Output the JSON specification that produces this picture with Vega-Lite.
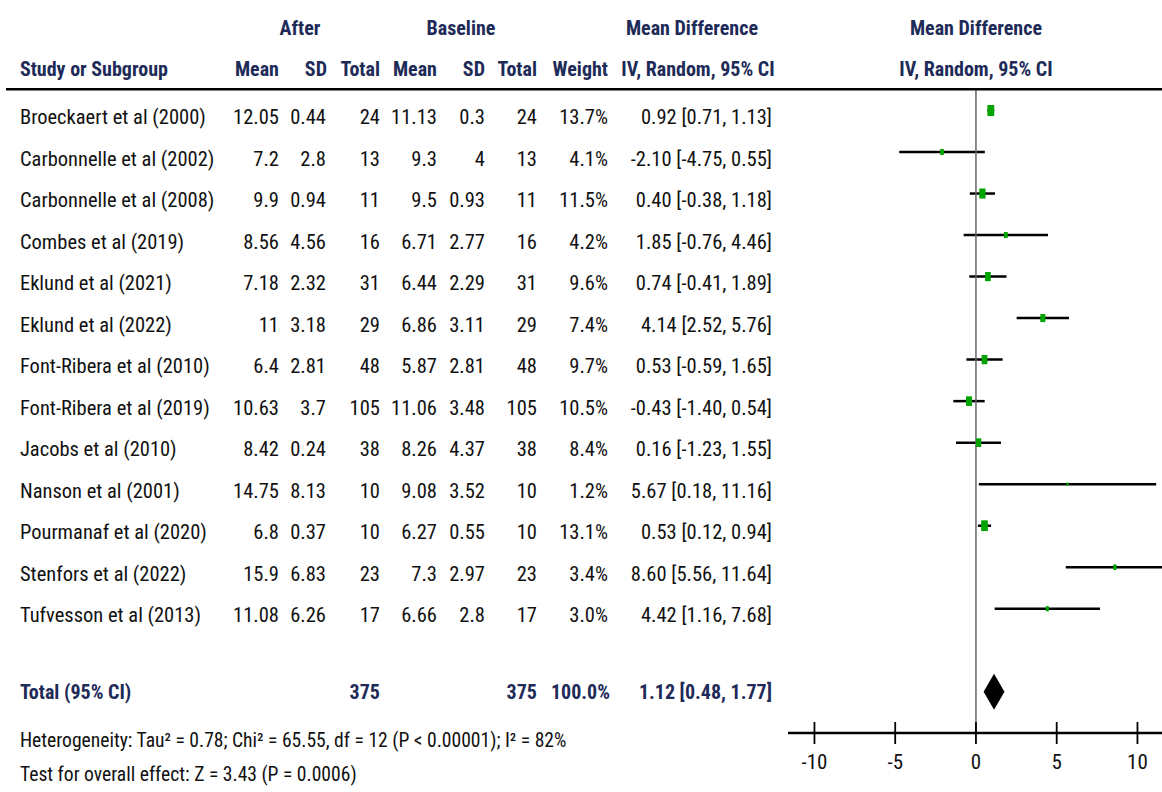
{
  "$schema": "https://vega.github.io/schema/vega-lite/v6.json",
  "description": "Forest plot: mean difference after vs baseline, IV random-effects model. Table columns share the mean-difference x scale.",
  "width": 1162,
  "height": 722,
  "autosize": {"type": "none"},
  "padding": {"left": 0, "top": 0, "right": 0, "bottom": 70},
  "background": "#ffffff",
  "config": {
    "view": {"stroke": null},
    "font": "Roboto Condensed, DejaVu Sans Condensed, sans-serif",
    "text": {"font": "Roboto Condensed, DejaVu Sans Condensed, sans-serif", "fontSize": 20.5, "color": "#111111", "baseline": "alphabetic"},
    "locale": {"number": {"decimal": ".", "thousands": ",", "grouping": [3], "currency": ["$", ""], "minus": "-"}}
  },
  "datasets": {
    "studies": [
      {"row": 0, "study": "Broeckaert et al (2000)", "m1": 12.05, "sd1": 0.44, "n1": 24, "m2": 11.13, "sd2": 0.3, "n2": 24, "weight": 13.7, "md": 0.92, "lo": 0.71, "hi": 1.13},
      {"row": 1, "study": "Carbonnelle et al (2002)", "m1": 7.2, "sd1": 2.8, "n1": 13, "m2": 9.3, "sd2": 4, "n2": 13, "weight": 4.1, "md": -2.10, "lo": -4.75, "hi": 0.55},
      {"row": 2, "study": "Carbonnelle et al (2008)", "m1": 9.9, "sd1": 0.94, "n1": 11, "m2": 9.5, "sd2": 0.93, "n2": 11, "weight": 11.5, "md": 0.40, "lo": -0.38, "hi": 1.18},
      {"row": 3, "study": "Combes et al (2019)", "m1": 8.56, "sd1": 4.56, "n1": 16, "m2": 6.71, "sd2": 2.77, "n2": 16, "weight": 4.2, "md": 1.85, "lo": -0.76, "hi": 4.46},
      {"row": 4, "study": "Eklund et al (2021)", "m1": 7.18, "sd1": 2.32, "n1": 31, "m2": 6.44, "sd2": 2.29, "n2": 31, "weight": 9.6, "md": 0.74, "lo": -0.41, "hi": 1.89},
      {"row": 5, "study": "Eklund et al (2022)", "m1": 11, "sd1": 3.18, "n1": 29, "m2": 6.86, "sd2": 3.11, "n2": 29, "weight": 7.4, "md": 4.14, "lo": 2.52, "hi": 5.76},
      {"row": 6, "study": "Font-Ribera et al (2010)", "m1": 6.4, "sd1": 2.81, "n1": 48, "m2": 5.87, "sd2": 2.81, "n2": 48, "weight": 9.7, "md": 0.53, "lo": -0.59, "hi": 1.65},
      {"row": 7, "study": "Font-Ribera et al (2019)", "m1": 10.63, "sd1": 3.7, "n1": 105, "m2": 11.06, "sd2": 3.48, "n2": 105, "weight": 10.5, "md": -0.43, "lo": -1.40, "hi": 0.54},
      {"row": 8, "study": "Jacobs et al (2010)", "m1": 8.42, "sd1": 0.24, "n1": 38, "m2": 8.26, "sd2": 4.37, "n2": 38, "weight": 8.4, "md": 0.16, "lo": -1.23, "hi": 1.55},
      {"row": 9, "study": "Nanson et al (2001)", "m1": 14.75, "sd1": 8.13, "n1": 10, "m2": 9.08, "sd2": 3.52, "n2": 10, "weight": 1.2, "md": 5.67, "lo": 0.18, "hi": 11.16},
      {"row": 10, "study": "Pourmanaf et al (2020)", "m1": 6.8, "sd1": 0.37, "n1": 10, "m2": 6.27, "sd2": 0.55, "n2": 10, "weight": 13.1, "md": 0.53, "lo": 0.12, "hi": 0.94},
      {"row": 11, "study": "Stenfors et al (2022)", "m1": 15.9, "sd1": 6.83, "n1": 23, "m2": 7.3, "sd2": 2.97, "n2": 23, "weight": 3.4, "md": 8.60, "lo": 5.56, "hi": 11.64},
      {"row": 12, "study": "Tufvesson et al (2013)", "m1": 11.08, "sd1": 6.26, "n1": 17, "m2": 6.66, "sd2": 2.8, "n2": 17, "weight": 3.0, "md": 4.42, "lo": 1.16, "hi": 7.68}
    ],
    "total": [
      {"row": 14, "study": "Total (95% CI)", "n1": 375, "n2": 375, "weight": 100, "md": 1.12, "lo": 0.48, "hi": 1.77}
    ],
    "ticks": [
      {"tick": -10}, {"tick": -5}, {"tick": 0}, {"tick": 5}, {"tick": 10}
    ]
  },
  "layer": [
    {"data": {"name": "studies"}, "mark": {"type": "rule", "color": "#000000", "strokeWidth": 2.5},
     "encoding": {"x": {"field": "lo", "type": "quantitative", "scale": {"domain": [-60.43, 11.52], "nice": false, "zero": false}, "axis": null},
                  "x2": {"field": "hi"},
                  "y": {"field": "row", "type": "quantitative", "scale": {"domain": [-2.661, 14.728], "reverse": true, "nice": false, "zero": false}, "axis": null}}},
    {"data": {"values": [{}]}, "mark": {"type": "rule", "color": "#666666", "strokeWidth": 1.5},
     "encoding": {"x": {"datum": 0, "type": "quantitative", "axis": null},
                  "y": {"datum": -0.511, "type": "quantitative", "scale": {"domain": [-2.661, 14.728], "reverse": true, "nice": false, "zero": false}, "axis": null},
                  "y2": {"datum": 14.993}}},
    {"data": {"values": [{}]}, "mark": {"type": "rule", "color": "#000000", "strokeWidth": 2.5},
     "encoding": {"x": {"datum": -60.06, "type": "quantitative", "axis": null},
                  "x2": {"datum": 11.52},
                  "y": {"datum": -0.511, "type": "quantitative", "scale": {"domain": [-2.661, 14.728], "reverse": true, "nice": false, "zero": false}, "axis": null}}},
    {"data": {"values": [{}]}, "mark": {"type": "rule", "color": "#000000", "strokeWidth": 2.5},
     "encoding": {"x": {"datum": -11.64, "type": "quantitative", "axis": null},
                  "x2": {"datum": 11.52},
                  "y": {"datum": 14.993, "type": "quantitative", "scale": {"domain": [-2.661, 14.728], "reverse": true, "nice": false, "zero": false}, "axis": null}}},
    {"data": {"name": "ticks"}, "mark": {"type": "rule", "color": "#000000", "strokeWidth": 1.8},
     "encoding": {"x": {"field": "tick", "type": "quantitative", "axis": null},
                  "y": {"datum": 14.728, "type": "quantitative", "scale": {"domain": [-2.661, 14.728], "reverse": true, "nice": false, "zero": false}, "axis": null},
                  "y2": {"datum": 15.258}}},
    {"data": {"name": "ticks"}, "mark": {"type": "text", "align": "center", "fontSize": 21},
     "encoding": {"x": {"field": "tick", "type": "quantitative", "axis": null},
                  "y": {"datum": 15.848, "type": "quantitative", "scale": {"domain": [-2.661, 14.728], "reverse": true, "nice": false, "zero": false}, "axis": null},
                  "text": {"field": "tick", "type": "quantitative", "format": "d"}}},
    {"data": {"name": "studies"}, "mark": {"type": "point", "shape": "M-0.62,-1H0.62V1H-0.62Z", "filled": true, "color": "#00a400", "opacity": 1},
     "encoding": {"x": {"field": "md", "type": "quantitative", "scale": {"domain": [-60.43, 11.52], "nice": false, "zero": false}, "axis": null},
                  "y": {"field": "row", "type": "quantitative", "scale": {"domain": [-2.661, 14.728], "reverse": true, "nice": false, "zero": false}, "axis": null},
                  "size": {"field": "weight", "type": "quantitative", "scale": {"type": "linear", "domain": [0, 13.7], "range": [0, 121]}, "legend": null}}},
    {"data": {"name": "total"}, "mark": {"type": "point", "shape": "M0,-1L0.58,0L0,1L-0.58,0Z", "filled": true, "color": "#000000", "opacity": 1, "size": 1296},
     "encoding": {"x": {"field": "md", "type": "quantitative", "scale": {"domain": [-60.43, 11.52], "nice": false, "zero": false}, "axis": null},
                  "y": {"field": "row", "type": "quantitative", "scale": {"domain": [-2.661, 14.728], "reverse": true, "nice": false, "zero": false}, "axis": null}}},

    {"data": {"name": "studies"}, "mark": {"type": "text", "align": "left", "dy": 13.5},
     "encoding": {"x": {"datum": -59.195, "type": "quantitative", "axis": null},
                  "y": {"field": "row", "type": "quantitative", "scale": {"domain": [-2.661, 14.728], "reverse": true, "nice": false, "zero": false}, "axis": null},
                  "text": {"field": "study", "type": "nominal"}}},
    {"data": {"name": "studies"}, "mark": {"type": "text", "align": "right", "dy": 13.5},
     "encoding": {"x": {"datum": -43.158, "type": "quantitative", "axis": null},
                  "y": {"field": "row", "type": "quantitative", "scale": {"domain": [-2.661, 14.728], "reverse": true, "nice": false, "zero": false}, "axis": null},
                  "text": {"field": "m1", "type": "nominal"}}},
    {"data": {"name": "studies"}, "mark": {"type": "text", "align": "right", "dy": 13.5},
     "encoding": {"x": {"datum": -40.248, "type": "quantitative", "axis": null},
                  "y": {"field": "row", "type": "quantitative", "scale": {"domain": [-2.661, 14.728], "reverse": true, "nice": false, "zero": false}, "axis": null},
                  "text": {"field": "sd1", "type": "nominal"}}},
    {"data": {"name": "studies"}, "mark": {"type": "text", "align": "right", "dy": 13.5},
     "encoding": {"x": {"datum": -36.904, "type": "quantitative", "axis": null},
                  "y": {"field": "row", "type": "quantitative", "scale": {"domain": [-2.661, 14.728], "reverse": true, "nice": false, "zero": false}, "axis": null},
                  "text": {"field": "n1", "type": "nominal"}}},
    {"data": {"name": "studies"}, "mark": {"type": "text", "align": "right", "dy": 13.5},
     "encoding": {"x": {"datum": -33.375, "type": "quantitative", "axis": null},
                  "y": {"field": "row", "type": "quantitative", "scale": {"domain": [-2.661, 14.728], "reverse": true, "nice": false, "zero": false}, "axis": null},
                  "text": {"field": "m2", "type": "nominal"}}},
    {"data": {"name": "studies"}, "mark": {"type": "text", "align": "right", "dy": 13.5},
     "encoding": {"x": {"datum": -30.402, "type": "quantitative", "axis": null},
                  "y": {"field": "row", "type": "quantitative", "scale": {"domain": [-2.661, 14.728], "reverse": true, "nice": false, "zero": false}, "axis": null},
                  "text": {"field": "sd2", "type": "nominal"}}},
    {"data": {"name": "studies"}, "mark": {"type": "text", "align": "right", "dy": 13.5},
     "encoding": {"x": {"datum": -27.183, "type": "quantitative", "axis": null},
                  "y": {"field": "row", "type": "quantitative", "scale": {"domain": [-2.661, 14.728], "reverse": true, "nice": false, "zero": false}, "axis": null},
                  "text": {"field": "n2", "type": "nominal"}}},
    {"data": {"name": "studies"},
     "transform": [{"calculate": "format(datum.weight, '.1f') + '%'", "as": "weightLabel"}],
     "mark": {"type": "text", "align": "right", "dy": 13.5},
     "encoding": {"x": {"datum": -22.786, "type": "quantitative", "axis": null},
                  "y": {"field": "row", "type": "quantitative", "scale": {"domain": [-2.661, 14.728], "reverse": true, "nice": false, "zero": false}, "axis": null},
                  "text": {"field": "weightLabel", "type": "nominal"}}},
    {"data": {"name": "studies"},
     "transform": [{"calculate": "format(datum.md, '.2f') + ' [' + format(datum.lo, '.2f') + ', ' + format(datum.hi, '.2f') + ']'", "as": "ciLabel"}],
     "mark": {"type": "text", "align": "right", "dy": 13.5},
     "encoding": {"x": {"datum": -12.632, "type": "quantitative", "axis": null},
                  "y": {"field": "row", "type": "quantitative", "scale": {"domain": [-2.661, 14.728], "reverse": true, "nice": false, "zero": false}, "axis": null},
                  "text": {"field": "ciLabel", "type": "nominal"}}},

    {"data": {"name": "total"}, "mark": {"type": "text", "align": "left", "dy": 7.5, "fontWeight": "bold", "fontSize": 20, "color": "#1e2b58"},
     "encoding": {"x": {"datum": -59.195, "type": "quantitative", "axis": null},
                  "y": {"field": "row", "type": "quantitative", "scale": {"domain": [-2.661, 14.728], "reverse": true, "nice": false, "zero": false}, "axis": null},
                  "text": {"field": "study", "type": "nominal"}}},
    {"data": {"name": "total"}, "mark": {"type": "text", "align": "right", "dy": 7.5, "fontWeight": "bold", "fontSize": 20, "color": "#1e2b58"},
     "encoding": {"x": {"datum": -36.904, "type": "quantitative", "axis": null},
                  "y": {"field": "row", "type": "quantitative", "scale": {"domain": [-2.661, 14.728], "reverse": true, "nice": false, "zero": false}, "axis": null},
                  "text": {"field": "n1", "type": "nominal"}}},
    {"data": {"name": "total"}, "mark": {"type": "text", "align": "right", "dy": 7.5, "fontWeight": "bold", "fontSize": 20, "color": "#1e2b58"},
     "encoding": {"x": {"datum": -27.183, "type": "quantitative", "axis": null},
                  "y": {"field": "row", "type": "quantitative", "scale": {"domain": [-2.661, 14.728], "reverse": true, "nice": false, "zero": false}, "axis": null},
                  "text": {"field": "n2", "type": "nominal"}}},
    {"data": {"name": "total"},
     "transform": [{"calculate": "format(datum.weight, '.1f') + '%'", "as": "weightLabel"}],
     "mark": {"type": "text", "align": "right", "dy": 7.5, "fontWeight": "bold", "fontSize": 20, "color": "#1e2b58"},
     "encoding": {"x": {"datum": -22.663, "type": "quantitative", "axis": null},
                  "y": {"field": "row", "type": "quantitative", "scale": {"domain": [-2.661, 14.728], "reverse": true, "nice": false, "zero": false}, "axis": null},
                  "text": {"field": "weightLabel", "type": "nominal"}}},
    {"data": {"name": "total"},
     "transform": [{"calculate": "format(datum.md, '.2f') + ' [' + format(datum.lo, '.2f') + ', ' + format(datum.hi, '.2f') + ']'", "as": "ciLabel"}],
     "mark": {"type": "text", "align": "right", "dy": 7.5, "fontWeight": "bold", "fontSize": 20, "color": "#1e2b58"},
     "encoding": {"x": {"datum": -12.632, "type": "quantitative", "axis": null},
                  "y": {"field": "row", "type": "quantitative", "scale": {"domain": [-2.661, 14.728], "reverse": true, "nice": false, "zero": false}, "axis": null},
                  "text": {"field": "ciLabel", "type": "nominal"}}},

    {"data": {"values": [{}]}, "mark": {"type": "text", "text": "After", "align": "center", "fontWeight": "bold", "fontSize": 20, "color": "#1e2b58"},
     "encoding": {"x": {"datum": -41.858, "type": "quantitative", "axis": null},
                  "y": {"datum": -1.818, "type": "quantitative", "scale": {"domain": [-2.661, 14.728], "reverse": true, "nice": false, "zero": false}, "axis": null}}},
    {"data": {"values": [{}]}, "mark": {"type": "text", "text": "Baseline", "align": "center", "fontWeight": "bold", "fontSize": 20, "color": "#1e2b58"},
     "encoding": {"x": {"datum": -31.889, "type": "quantitative", "axis": null},
                  "y": {"datum": -1.818, "type": "quantitative", "scale": {"domain": [-2.661, 14.728], "reverse": true, "nice": false, "zero": false}, "axis": null}}},
    {"data": {"values": [{}]}, "mark": {"type": "text", "text": "Mean Difference", "align": "center", "fontWeight": "bold", "fontSize": 20, "color": "#1e2b58"},
     "encoding": {"x": {"datum": -17.585, "type": "quantitative", "axis": null},
                  "y": {"datum": -1.818, "type": "quantitative", "scale": {"domain": [-2.661, 14.728], "reverse": true, "nice": false, "zero": false}, "axis": null}}},
    {"data": {"values": [{}]}, "mark": {"type": "text", "text": "Study or Subgroup", "align": "left", "fontWeight": "bold", "fontSize": 20, "color": "#1e2b58"},
     "encoding": {"x": {"datum": -59.195, "type": "quantitative", "axis": null},
                  "y": {"datum": -0.841, "type": "quantitative", "scale": {"domain": [-2.661, 14.728], "reverse": true, "nice": false, "zero": false}, "axis": null}}},
    {"data": {"values": [{}]}, "mark": {"type": "text", "text": "Mean", "align": "right", "fontWeight": "bold", "fontSize": 20, "color": "#1e2b58"},
     "encoding": {"x": {"datum": -43.158, "type": "quantitative", "axis": null},
                  "y": {"datum": -0.841, "type": "quantitative", "scale": {"domain": [-2.661, 14.728], "reverse": true, "nice": false, "zero": false}, "axis": null}}},
    {"data": {"values": [{}]}, "mark": {"type": "text", "text": "SD", "align": "right", "fontWeight": "bold", "fontSize": 20, "color": "#1e2b58"},
     "encoding": {"x": {"datum": -40.186, "type": "quantitative", "axis": null},
                  "y": {"datum": -0.841, "type": "quantitative", "scale": {"domain": [-2.661, 14.728], "reverse": true, "nice": false, "zero": false}, "axis": null}}},
    {"data": {"values": [{}]}, "mark": {"type": "text", "text": "Total", "align": "right", "fontWeight": "bold", "fontSize": 20, "color": "#1e2b58"},
     "encoding": {"x": {"datum": -36.904, "type": "quantitative", "axis": null},
                  "y": {"datum": -0.841, "type": "quantitative", "scale": {"domain": [-2.661, 14.728], "reverse": true, "nice": false, "zero": false}, "axis": null}}},
    {"data": {"values": [{}]}, "mark": {"type": "text", "text": "Mean", "align": "right", "fontWeight": "bold", "fontSize": 20, "color": "#1e2b58"},
     "encoding": {"x": {"datum": -33.375, "type": "quantitative", "axis": null},
                  "y": {"datum": -0.841, "type": "quantitative", "scale": {"domain": [-2.661, 14.728], "reverse": true, "nice": false, "zero": false}, "axis": null}}},
    {"data": {"values": [{}]}, "mark": {"type": "text", "text": "SD", "align": "right", "fontWeight": "bold", "fontSize": 20, "color": "#1e2b58"},
     "encoding": {"x": {"datum": -30.402, "type": "quantitative", "axis": null},
                  "y": {"datum": -0.841, "type": "quantitative", "scale": {"domain": [-2.661, 14.728], "reverse": true, "nice": false, "zero": false}, "axis": null}}},
    {"data": {"values": [{}]}, "mark": {"type": "text", "text": "Total", "align": "right", "fontWeight": "bold", "fontSize": 20, "color": "#1e2b58"},
     "encoding": {"x": {"datum": -27.183, "type": "quantitative", "axis": null},
                  "y": {"datum": -0.841, "type": "quantitative", "scale": {"domain": [-2.661, 14.728], "reverse": true, "nice": false, "zero": false}, "axis": null}}},
    {"data": {"values": [{}]}, "mark": {"type": "text", "text": "Weight", "align": "right", "fontWeight": "bold", "fontSize": 20, "color": "#1e2b58"},
     "encoding": {"x": {"datum": -22.786, "type": "quantitative", "axis": null},
                  "y": {"datum": -0.841, "type": "quantitative", "scale": {"domain": [-2.661, 14.728], "reverse": true, "nice": false, "zero": false}, "axis": null}}},
    {"data": {"values": [{}]}, "mark": {"type": "text", "text": "IV, Random, 95% CI", "align": "center", "fontWeight": "bold", "fontSize": 20, "color": "#1e2b58"},
     "encoding": {"x": {"datum": -17.214, "type": "quantitative", "axis": null},
                  "y": {"datum": -0.841, "type": "quantitative", "scale": {"domain": [-2.661, 14.728], "reverse": true, "nice": false, "zero": false}, "axis": null}}},
    {"data": {"values": [{}]}, "mark": {"type": "text", "text": "Mean Difference", "align": "center", "fontWeight": "bold", "fontSize": 20, "color": "#1e2b58"},
     "encoding": {"x": {"datum": 0, "type": "quantitative", "axis": null},
                  "y": {"datum": -1.818, "type": "quantitative", "scale": {"domain": [-2.661, 14.728], "reverse": true, "nice": false, "zero": false}, "axis": null}}},
    {"data": {"values": [{}]}, "mark": {"type": "text", "text": "IV, Random, 95% CI", "align": "center", "fontWeight": "bold", "fontSize": 20, "color": "#1e2b58"},
     "encoding": {"x": {"datum": 0, "type": "quantitative", "axis": null},
                  "y": {"datum": -0.841, "type": "quantitative", "scale": {"domain": [-2.661, 14.728], "reverse": true, "nice": false, "zero": false}, "axis": null}}},

    {"data": {"values": [{}]}, "mark": {"type": "text", "text": "Heterogeneity: Tau² = 0.78; Chi² = 65.55, df = 12 (P < 0.00001); I² = 82%", "align": "left", "fontSize": 19.6},
     "encoding": {"x": {"datum": -59.195, "type": "quantitative", "axis": null},
                  "y": {"datum": 15.32, "type": "quantitative", "scale": {"domain": [-2.661, 14.728], "reverse": true, "nice": false, "zero": false}, "axis": null}}},
    {"data": {"values": [{}]}, "mark": {"type": "text", "text": "Test for overall effect: Z = 3.43 (P = 0.0006)", "align": "left", "fontSize": 19.6},
     "encoding": {"x": {"datum": -59.195, "type": "quantitative", "axis": null},
                  "y": {"datum": 16.15, "type": "quantitative", "scale": {"domain": [-2.661, 14.728], "reverse": true, "nice": false, "zero": false}, "axis": null}}}
  ]
}
